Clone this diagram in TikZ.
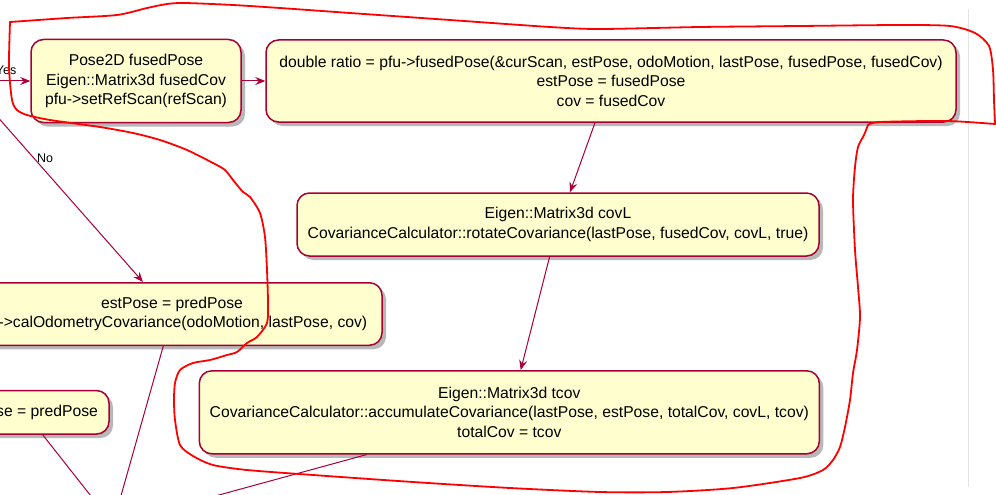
\documentclass[tikz,border=0pt]{standalone}
\usepackage{fontspec}
\setmainfont{Liberation Sans}
\usetikzlibrary{arrows.meta,shadows,calc}
\definecolor{pumlborder}{HTML}{A80036}
\definecolor{pumlfill}{HTML}{FEFECE}
\definecolor{scrollgray}{HTML}{E3E3E3}
\begin{document}
\begin{tikzpicture}[x=1pt,y=-1pt,
  actbox/.style={draw=pumlborder, fill=pumlfill, line width=1.5pt, rounded corners=12.5pt,
    align=center, inner sep=0pt, text=black, font=\fontsize{15.7}{19.5}\selectfont,
    drop shadow={shadow xshift=4pt, shadow yshift=-4pt, fill=black, opacity=0.28}},
  flow/.style={draw=pumlborder, line width=1pt},
  arr/.style={flow, -{Stealth[length=10pt,width=8pt,inset=3.5pt]}},
  lbl/.style={font=\fontsize{12.5}{15}\selectfont, inner sep=0pt, text=black},
  loop/.style={draw=red, line width=1.8pt, line join=round, line cap=round}]
\useasboundingbox (0,0) rectangle (996,495);
\fill[white] (0,0) rectangle (996,495);
\clip (0,0) rectangle (996,495);

\draw[scrollgray, line width=1pt] (968,9) -- (968,487);

\node[actbox, minimum width=210pt, minimum height=83pt] (fuse) at (136,81)
  {Pose2D fusedPose\\Eigen::Matrix3d fusedCov\\pfu->setRefScan(refScan)};
\node[actbox, minimum width=690pt, minimum height=82pt] (ratio) at (611,81)
  {double ratio = pfu->fusedPose(\&curScan, estPose, odoMotion, lastPose, fusedPose, fusedCov)\\estPose = fusedPose\\cov = fusedCov};
\node[actbox, minimum width=522pt, minimum height=63pt] (covl) at (558,224.5)
  {Eigen::Matrix3d covL\\CovarianceCalculator::rotateCovariance(lastPose, fusedCov, covL, true)};
\node[actbox, minimum width=620pt, minimum height=83pt] (tcov) at (509.3,412.3)
  {Eigen::Matrix3d tcov\\CovarianceCalculator::accumulateCovariance(lastPose, estPose, totalCov, covL, tcov)\\totalCov = tcov};
\node[actbox, minimum width=420pt, minimum height=62.5pt] (est) at (172,314)
  {estPose = predPose\\pfu->calOdometryCovariance(odoMotion, lastPose, cov)};
\node[actbox, minimum width=164pt, minimum height=43.5pt] (pred) at (27,412.3)
  {estPose = predPose};

\coordinate (yesin) at (-5,81);
\draw[arr] (yesin) -- (fuse.west);
\node[lbl, anchor=east] (yes) at (16.5,70) {Yes};
\draw[arr] (fuse.east) -- (ratio.west);
\draw[arr] ([xshift=-16pt]ratio.south) -- ([xshift=12pt]covl.north);
\draw[arr] ([xshift=-8.4pt]covl.south) -- ([xshift=11.4pt]tcov.north);
\coordinate (noin) at (-5,114);
\draw[arr] (noin) -- ([xshift=-29pt]est.north);
\node[lbl] (no) at (45,158) {No};
\coordinate (merge) at (113,524);
\draw[flow] ([xshift=-8.7pt]est.south) -- (merge);
\draw[flow] ([xshift=15.7pt]pred.south) -- (merge);
\draw[flow] ([xshift=-142.6pt]tcov.south) -- (merge);

% hand-drawn red loop, in three strokes meeting at its sharp corners
\draw[loop] plot[smooth, tension=0.45] coordinates {
 (10,22) (67,18) (117,15) (147,8) (167,4) (185,3) (233,5) (280,8) (350,13) (450,20) (550,27)
 (600,29) (700,27) (800,26) (900,25) (950,26) (975,33) (989,46) (993,70) (994,100) (995,124)};
\draw[loop] plot[smooth, tension=0.45] coordinates {
 (995,124) (947,121) (880,122) (868,125)};
\draw[loop] plot[smooth, tension=0.45] coordinates {
 (868,125) (864,135) (858,147) (855,167) (853,200) (855,250) (858,287)
 (860,317) (857,350) (853,373) (850,400) (845,427) (840,447) (833,460) (823,470) (800,478)
 (733,488) (667,492) (600,492) (510,488) (413,482) (313,475) (247,470) (213,465) (193,456)
 (180,445) (175,420) (174,400) (175,383) (180,370) (193,363) (210,360) (227,355) (237,352)
 (247,343) (257,337) (267,323) (268,303) (267,270) (265,237) (260,213) (250,197) (243,192)
 (233,180) (225,170) (213,163) (187,150) (160,140) (133,133) (100,127) (50,120) (27,115)
 (17,110) (12,100) (9,67) (10,22)};
\end{tikzpicture}
\end{document}
